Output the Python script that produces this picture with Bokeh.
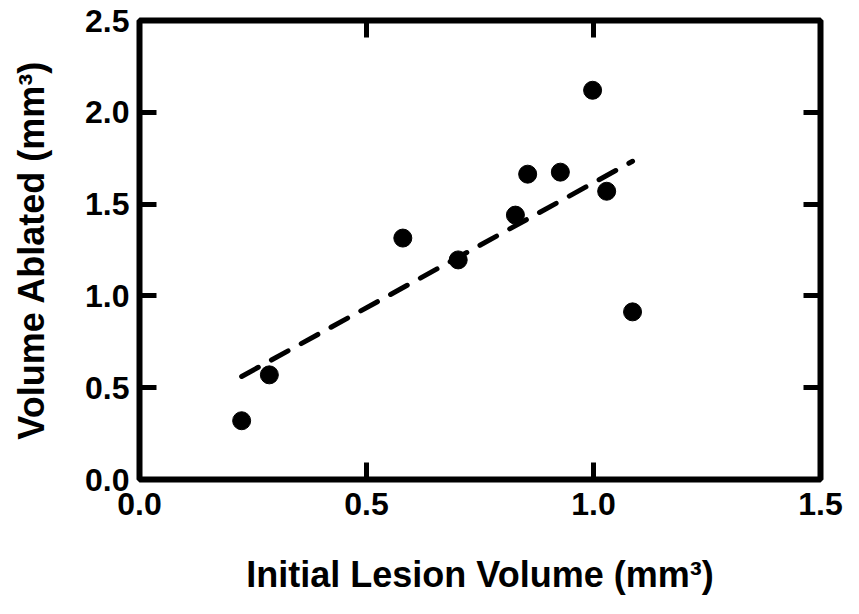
import numpy as np
from bokeh.plotting import figure
from bokeh.models import LinearAxis, FixedTicker, ColumnDataSource, CustomLabelingPolicy
from bokeh.embed import file_html
from bokeh.resources import INLINE

# Data
initial_volume = [0.225, 0.286, 0.580, 0.702, 0.828, 0.855, 0.927, 0.998, 1.029, 1.086]
volume_ablated = [0.32, 0.57, 1.315, 1.196, 1.44, 1.663, 1.674, 2.12, 1.57, 0.913]

x_ticks = [0.0, 0.5, 1.0, 1.5]
x_tick_labels = ["0.0", "0.5", "1.0", "1.5"]
y_ticks = [0.0, 0.5, 1.0, 1.5, 2.0, 2.5]
y_tick_labels = ["0.0", "0.5", "1.0", "1.5", "2.0", "2.5"]

x_title = "Initial Lesion Volume (mm³)"
y_title = "Volume Ablated (mm³)"

# Linear regression through the data
slope, intercept = np.polyfit(initial_volume, volume_ablated, 1)
fit_x = [min(initial_volume), max(initial_volume)]
fit_y = [slope * v + intercept for v in fit_x]

FONT = "Liberation Sans"
LW = 6

p = figure(width=843, height=598, output_backend="svg", toolbar_location=None,
           x_range=(0, 1.5), y_range=(0, 2.5),
           x_axis_location=None, y_axis_location=None,
           min_border_left=139, min_border_right=23, min_border_top=20, min_border_bottom=119)
p.xgrid.visible = False
p.ygrid.visible = False
p.outline_line_color = "black"
p.outline_line_width = LW
p.background_fill_color = "white"
p.border_fill_color = "white"

hide_labels = CustomLabelingPolicy(code="""
for (const i of Array.from(indices)) { indices.set(i, false) }
return indices
""")


def style_axis(ax, ticks, overrides, show_labels):
    ax.ticker = FixedTicker(ticks=ticks)
    ax.axis_line_color = None
    ax.major_tick_in = 17
    ax.major_tick_out = 0
    ax.major_tick_line_width = 5
    ax.major_tick_line_color = "black"
    ax.minor_tick_line_color = None
    if show_labels:
        ax.major_label_overrides = overrides
        ax.major_label_text_font = FONT
        ax.major_label_text_font_style = "bold"
        ax.major_label_text_font_size = "32px"
        ax.major_label_text_color = "black"
        ax.axis_label_text_font = FONT
        ax.axis_label_text_font_style = "bold"
        ax.axis_label_text_font_size = "36px"
        ax.axis_label_text_color = "black"
    else:
        ax.major_label_text_font_size = "1px"
        ax.major_label_standoff = 0
        ax.major_label_policy = hide_labels


xb = LinearAxis(axis_label=x_title)
style_axis(xb, x_ticks, dict(zip(x_ticks, x_tick_labels)), True)
xb.major_label_standoff = 13
xb.axis_label_standoff = 36
p.add_layout(xb, "below")

yl = LinearAxis(axis_label=y_title)
style_axis(yl, y_ticks, dict(zip(y_ticks, y_tick_labels)), True)
yl.major_label_standoff = 10
yl.axis_label_standoff = 30
p.add_layout(yl, "left")

xa = LinearAxis()
style_axis(xa, x_ticks, {}, False)
p.add_layout(xa, "above")

yr = LinearAxis()
style_axis(yr, y_ticks, {}, False)
p.add_layout(yr, "right")

fit_src = ColumnDataSource(dict(x=fit_x, y=fit_y))
p.line("x", "y", source=fit_src, line_color="black", line_width=5,
       line_dash="19 15", line_cap="round")

pts = ColumnDataSource(dict(x=initial_volume, y=volume_ablated))
p.scatter("x", "y", source=pts, size=18, fill_color="black", line_color="black")

open("out.html", "w").write(file_html(p, INLINE))
